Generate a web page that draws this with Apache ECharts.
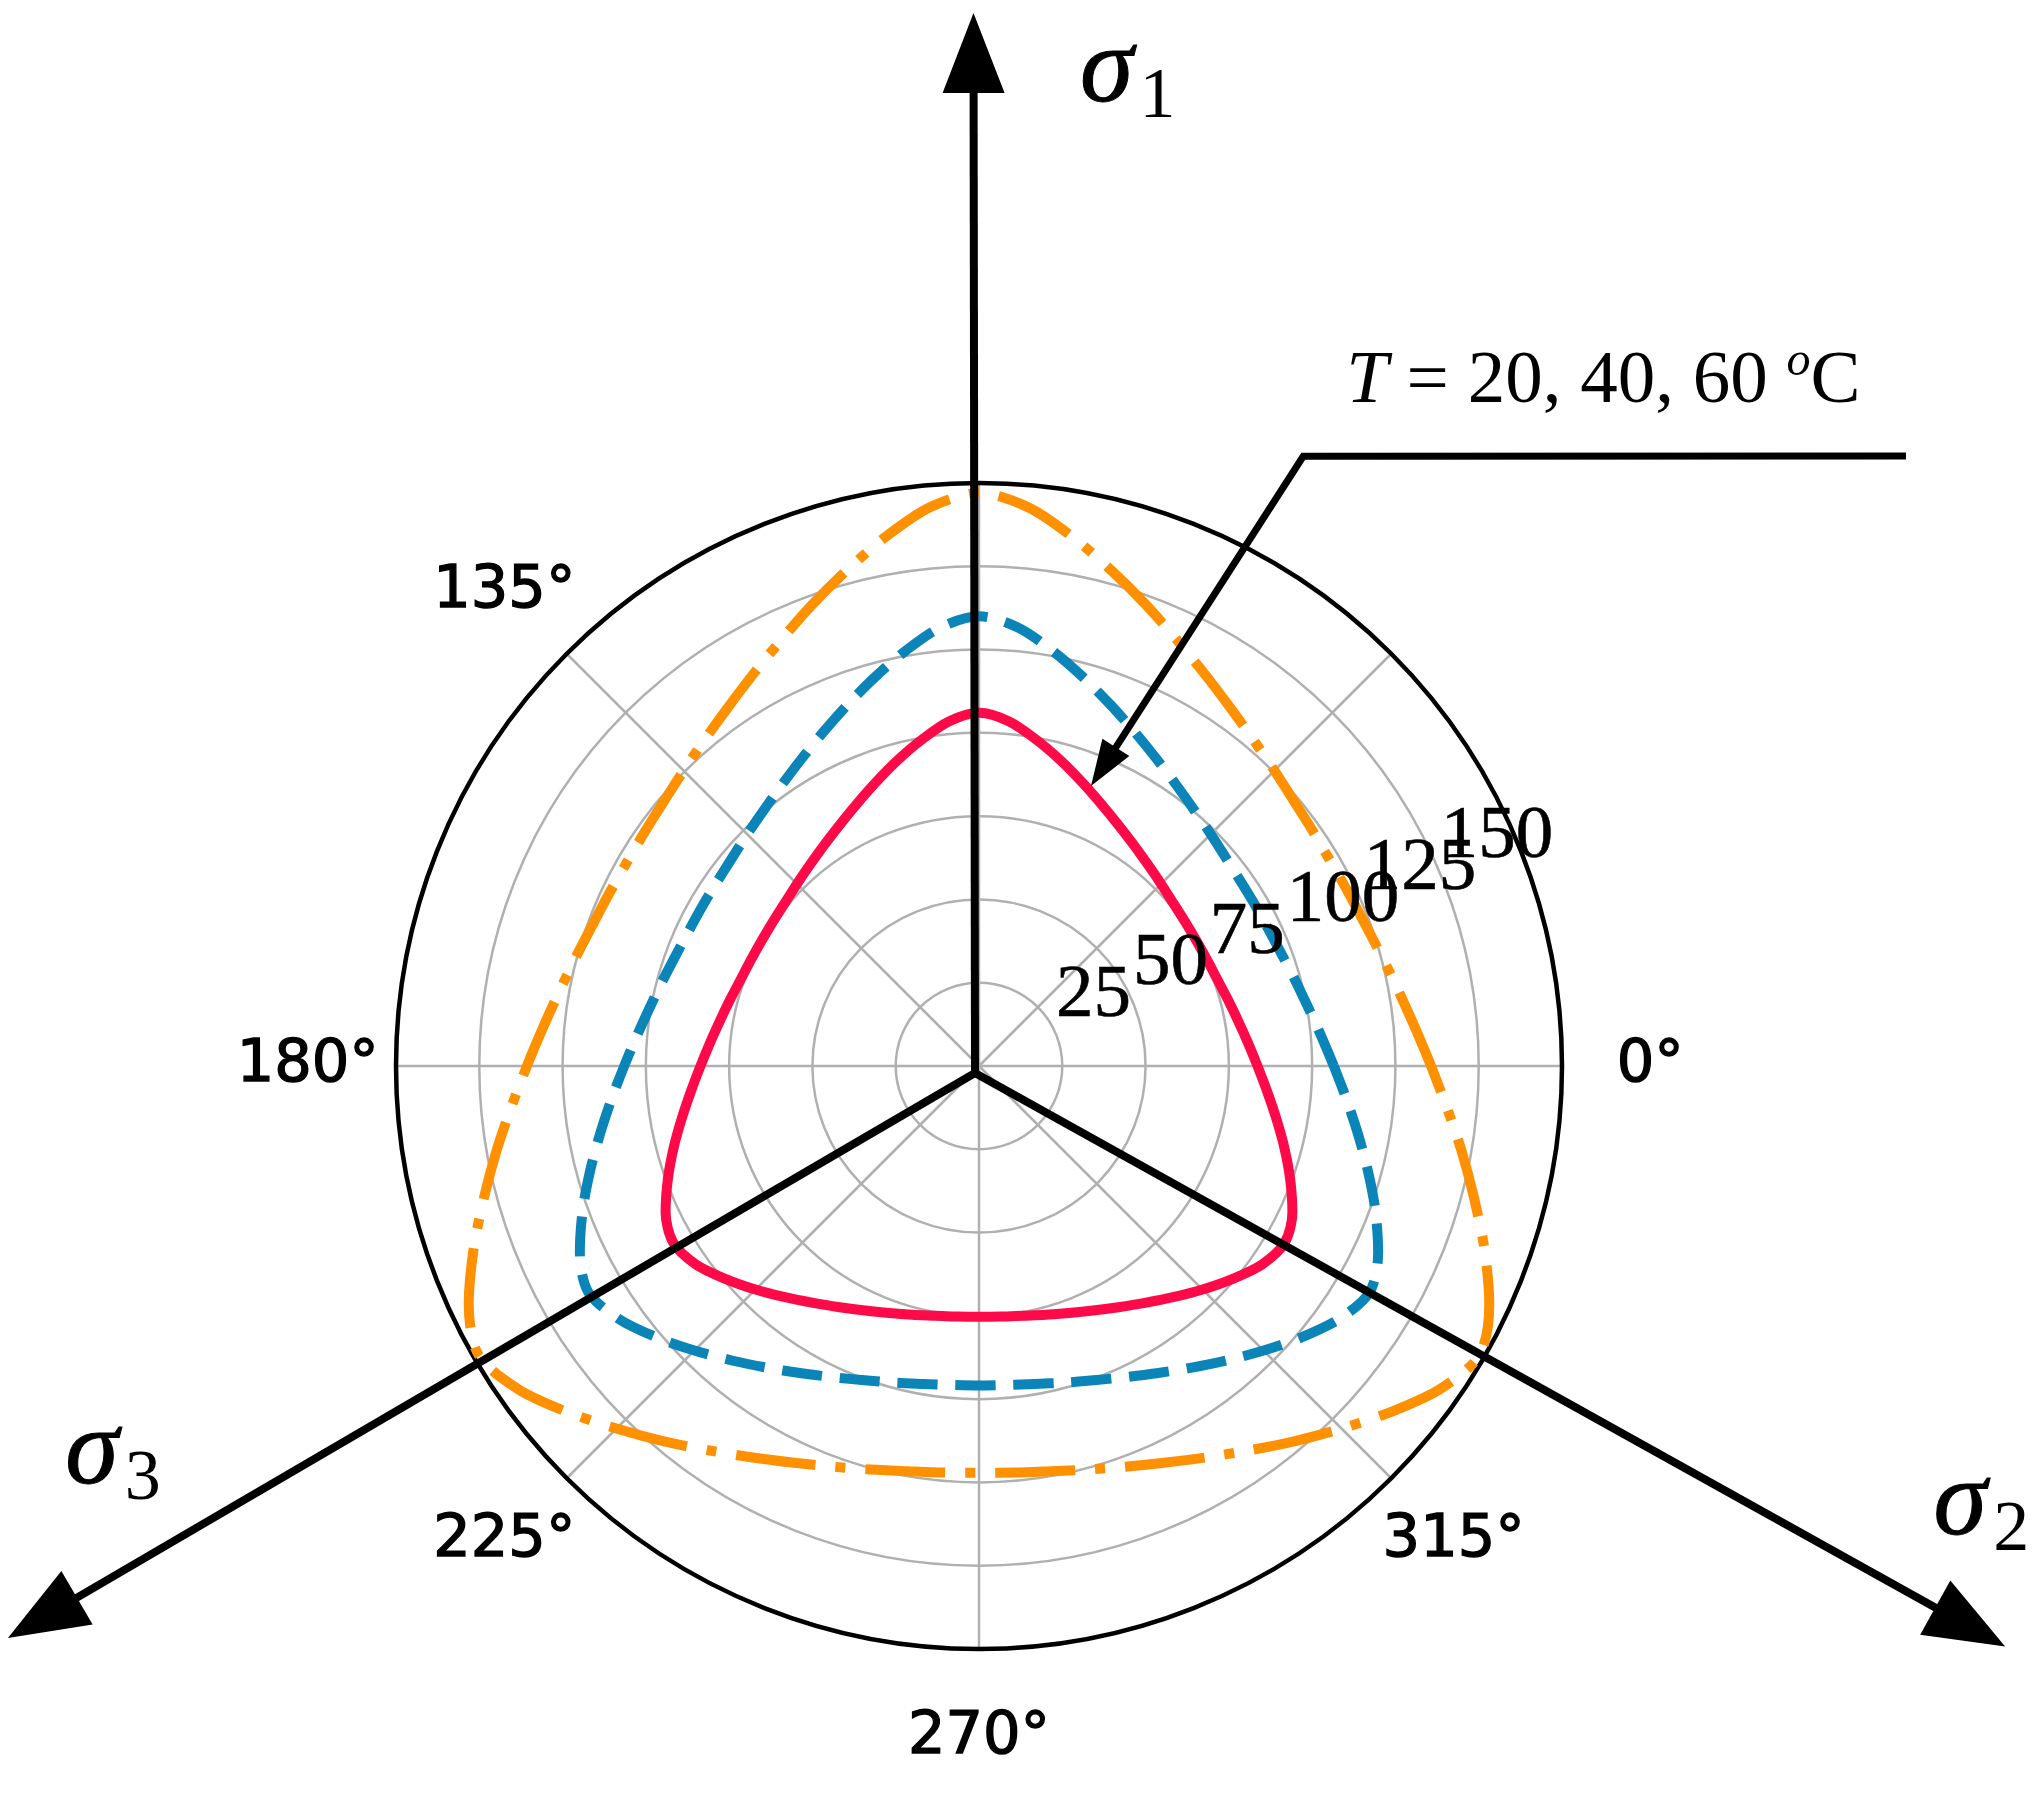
<!DOCTYPE html>
<html>
<head>
<meta charset="utf-8">
<script src="https://cdn.jsdelivr.net/npm/echarts@6/dist/echarts.min.js"></script>
<style>
html,body{margin:0;padding:0;background:#ffffff;}
#c{width:2037px;height:1801px;}
</style>
</head>
<body>
<div id="c"></div>
<script>
// ---------------- data ----------------
const ANGLES = [0,5,10,15,20,25,30,35,40,45,50,55,60,65,70,75,80,85,
                90,95,100,105,110,115,120,125,130,135,140,145,150,155,160,165,170,175,
                180,185,190,195,200,205,210,215,220,225,230,235,240,245,250,255,260,265,
                270,275,280,285,290,295,300,305,310,315,320,325,330,335,340,345,350,355];
const RED = [83.6,81.0,78.9,77.3,76.1,75.5,75.3,75.5,76.1,77.3,78.9,81.0,83.6,86.8,90.6,94.9,99.4,103.8,
             106,103.8,99.4,94.9,90.6,86.8,83.6,81.0,78.9,77.3,76.1,75.5,75.3,75.5,76.1,77.3,78.9,81.0,
             83.6,86.8,90.6,94.9,99.4,103.8,106,103.8,99.4,94.9,90.6,86.8,83.6,81.0,78.9,77.3,76.1,75.5,
             75.3,75.5,76.1,77.3,78.9,81.0,83.6,86.8,90.6,94.9,99.4,103.8,106,103.8,99.4,94.9,90.6,86.8];
const BLUE = [106.5,103.1,100.4,98.4,96.9,96.1,95.9,96.1,96.9,98.4,100.4,103.1,106.5,110.6,115.4,120.8,126.6,132.2,
              135,132.2,126.6,120.8,115.4,110.6,106.5,103.1,100.4,98.4,96.9,96.1,95.9,96.1,96.9,98.4,100.4,103.1,
              106.5,110.6,115.4,120.8,126.6,132.2,135.5,132.2,126.6,120.8,115.4,110.6,106.5,103.1,100.4,98.4,96.9,96.1,
              95.9,96.1,96.9,98.4,100.4,103.1,106.5,110.6,115.4,120.8,126.6,132.2,135.5,132.2,126.6,120.8,115.4,110.6];
const ORANGE = [135.7,131.4,128.0,125.4,123.5,122.5,122.1,122.5,123.5,125.4,128.0,131.4,135.7,140.9,147.1,153.9,161.3,168.4,
                172,168.4,161.3,153.9,147.1,140.9,135.7,131.4,128.0,125.4,123.5,122.5,122.1,122.5,123.5,125.4,128.0,131.4,
                135.7,140.9,147.1,153.9,161.5,169.0,173.5,169.0,161.5,153.9,147.1,140.9,135.7,131.4,128.0,125.4,123.5,122.5,
                122.1,122.5,123.5,125.4,128.0,131.4,135.7,140.9,147.1,153.9,161.5,169.0,173.5,169.0,161.5,153.9,147.1,140.9];
const RADIAL_TICKS = [25,50,75,100,125,150];
const RADIAL_LABEL_ANGLE = 22.5;
const ANGLE_TICK_LABELS = [0,135,180,225,270,315];
const R_MAX = 175;
const ANGLE_LABEL_R = 201.5;
// annotation anchors in polar data units [radius, angle]
const ARROW_ORIGIN = [2.4, 240];
const ARROW_TIPS = [[316.1, 90.3],[353.9, 330.5],[338.3, 210.5]];
const SIGMA_LABELS = [{sub:'1', at:[297.2, 82.6]},{sub:'2', at:[324.2, 335.3]},{sub:'3', at:[292.2, 204.3]}];
const NOTE_TEXT_AT = [277.9, 47.6];
const NOTE_PATH = [[333.1, 33.35],[207.3, 62.0],[90.5, 68.2]];

const COLORS = {red:'#ff0a48', blue:'#0b84b8', orange:'#ff9100', grid:'#b0b0b0'};

// ---------------- chart ----------------
const chart = echarts.init(document.getElementById('c'), null, {renderer:'canvas', width:2037, height:1801});

function loop(vals){
  const d = ANGLES.map((a,i)=>[vals[i], a]);
  d.push([vals[0], 360]);
  return d;
}
function curve(name, vals, color, type, z){
  return {
    type:'line', name:name, coordinateSystem:'polar', data:loop(vals),
    smooth:0.3, showSymbol:false, symbol:'none', clip:false, silent:true, z:z,
    lineStyle:{color:color, width:10, type:type, cap:'butt', join:'round'},
    emphasis:{disabled:true}
  };
}

const option = {
  animation:false,
  backgroundColor:'#ffffff',
  polar:{center:[979,1066], radius:583},
  angleAxis:{
    type:'value', min:0, max:360, interval:45, startAngle:0, clockwise:false,
    axisLine:{show:true, lineStyle:{color:'#000', width:4.5}},
    axisTick:{show:false}, axisLabel:{show:false},
    splitLine:{show:true, lineStyle:{color:COLORS.grid, width:2.5}}
  },
  radiusAxis:{
    type:'value', min:0, max:R_MAX, interval:25,
    axisLine:{show:false}, axisTick:{show:false}, axisLabel:{show:false},
    splitLine:{show:true, lineStyle:{color:COLORS.grid, width:2.5}}
  },
  series:[
    curve('outer', ORANGE, COLORS.orange, [80,20,10,20], 3),
    curve('middle', BLUE, COLORS.blue, [40,18], 4),
    curve('inner', RED, COLORS.red, 'solid', 5),
    {
      type:'scatter', coordinateSystem:'polar', clip:false, silent:true, z:6,
      symbol:'circle', symbolSize:0.01, itemStyle:{color:'#000000'},
      data: RADIAL_TICKS.map(v=>[v, RADIAL_LABEL_ANGLE]),
      label:{show:true, position:[0,0], align:'left', verticalAlign:'bottom',
        formatter:p=>String(p.value[0]), fontFamily:'Liberation Serif', fontSize:75,
        color:'#000000', opacity:1, textBorderColor:'#000000', textBorderWidth:0.6},
      emphasis:{disabled:true}
    },
    {
      type:'scatter', coordinateSystem:'polar', clip:false, silent:true, z:6,
      symbol:'circle', symbolSize:0.01, itemStyle:{color:'#000000'},
      data: ANGLE_TICK_LABELS.map(a=>[ANGLE_LABEL_R, a]),
      label:{show:true, position:[0,0], align:'center', verticalAlign:'middle',
        formatter:p=>p.value[1]+'°', fontFamily:'DejaVu Sans', fontSize:59,
        color:'#000000', opacity:1, textBorderColor:'#000000', textBorderWidth:1.4},
      emphasis:{disabled:true}
    }
  ]
};
chart.setOption(option);

// ---------------- annotations ----------------
const px = p => chart.convertToPixel({polarIndex:0}, p);
const G = [];
function arrow(from, to, headLen, headW, lw){
  const dx = to[0]-from[0], dy = to[1]-from[1];
  const L = Math.hypot(dx,dy), ux = dx/L, uy = dy/L;
  const bx = to[0]-ux*headLen, by = to[1]-uy*headLen;
  const nx = -uy, ny = ux;
  G.push({type:'line', z:100, silent:true,
    shape:{x1:from[0], y1:from[1], x2:bx+ux*3, y2:by+uy*3},
    style:{stroke:'#000', lineWidth:lw}});
  G.push({type:'polygon', z:101, silent:true,
    shape:{points:[[to[0],to[1]],[bx+nx*headW/2, by+ny*headW/2],[bx-nx*headW/2, by-ny*headW/2]]},
    style:{fill:'#000'}});
}
const O = px(ARROW_ORIGIN);
ARROW_TIPS.forEach(t=>arrow(O, px(t), 80, 62, 8));

SIGMA_LABELS.forEach(s=>{
  const p = px(s.at);
  G.push({type:'text', z:102, silent:true, x:p[0], y:p[1]-12,
    style:{text:'σ', font:'italic 108px "Liberation Serif"', fill:'#000', stroke:'#000', lineWidth:1,
      align:'center', verticalAlign:'middle', textAlign:'center', textVerticalAlign:'middle'}});
  G.push({type:'text', z:102, silent:true, x:p[0]+51, y:p[1]+14,
    style:{text:s.sub, font:'72px "Liberation Serif"', fill:'#000',
      align:'center', verticalAlign:'middle', textAlign:'center', textVerticalAlign:'middle'}});
});

// leader line with arrow for the temperature note
const np = NOTE_PATH.map(px);
const tip = np[2], elb = np[1];
{
  const dx = tip[0]-elb[0], dy = tip[1]-elb[1];
  const L = Math.hypot(dx,dy), ux = dx/L, uy = dy/L;
  const hl = 46, hw = 32;
  const bx = tip[0]-ux*hl, by = tip[1]-uy*hl, nx=-uy, ny=ux;
  G.push({type:'polyline', z:100, silent:true,
    shape:{points:[np[0], elb, [bx+ux*3, by+uy*3]]},
    style:{stroke:'#000', lineWidth:7, fill:null, lineJoin:'miter'}});
  G.push({type:'polygon', z:101, silent:true,
    shape:{points:[[tip[0],tip[1]],[bx+nx*hw/2,by+ny*hw/2],[bx-nx*hw/2,by-ny*hw/2]]},
    style:{fill:'#000'}});
}
const nt = px(NOTE_TEXT_AT);
G.push({type:'text', z:102, silent:true, x:nt[0], y:nt[1],
  style:{
    text:'{i|T}{n| = 20, 40, 60 }{s|o}{n|C}',
    align:'center', verticalAlign:'middle', textAlign:'center', textVerticalAlign:'middle',
    fill:'#000',
    rich:{
      i:{fontFamily:'Liberation Serif', fontStyle:'italic', fontSize:75, lineHeight:88, verticalAlign:'middle', fill:'#000', color:'#000'},
      n:{fontFamily:'Liberation Serif', fontSize:75, lineHeight:88, verticalAlign:'middle', fill:'#000', color:'#000'},
      s:{fontFamily:'Liberation Serif', fontStyle:'italic', fontSize:48, lineHeight:48, verticalAlign:'top', fill:'#000', color:'#000'}
    }
  }});

chart.setOption({graphic:G});
</script>
</body>
</html>
